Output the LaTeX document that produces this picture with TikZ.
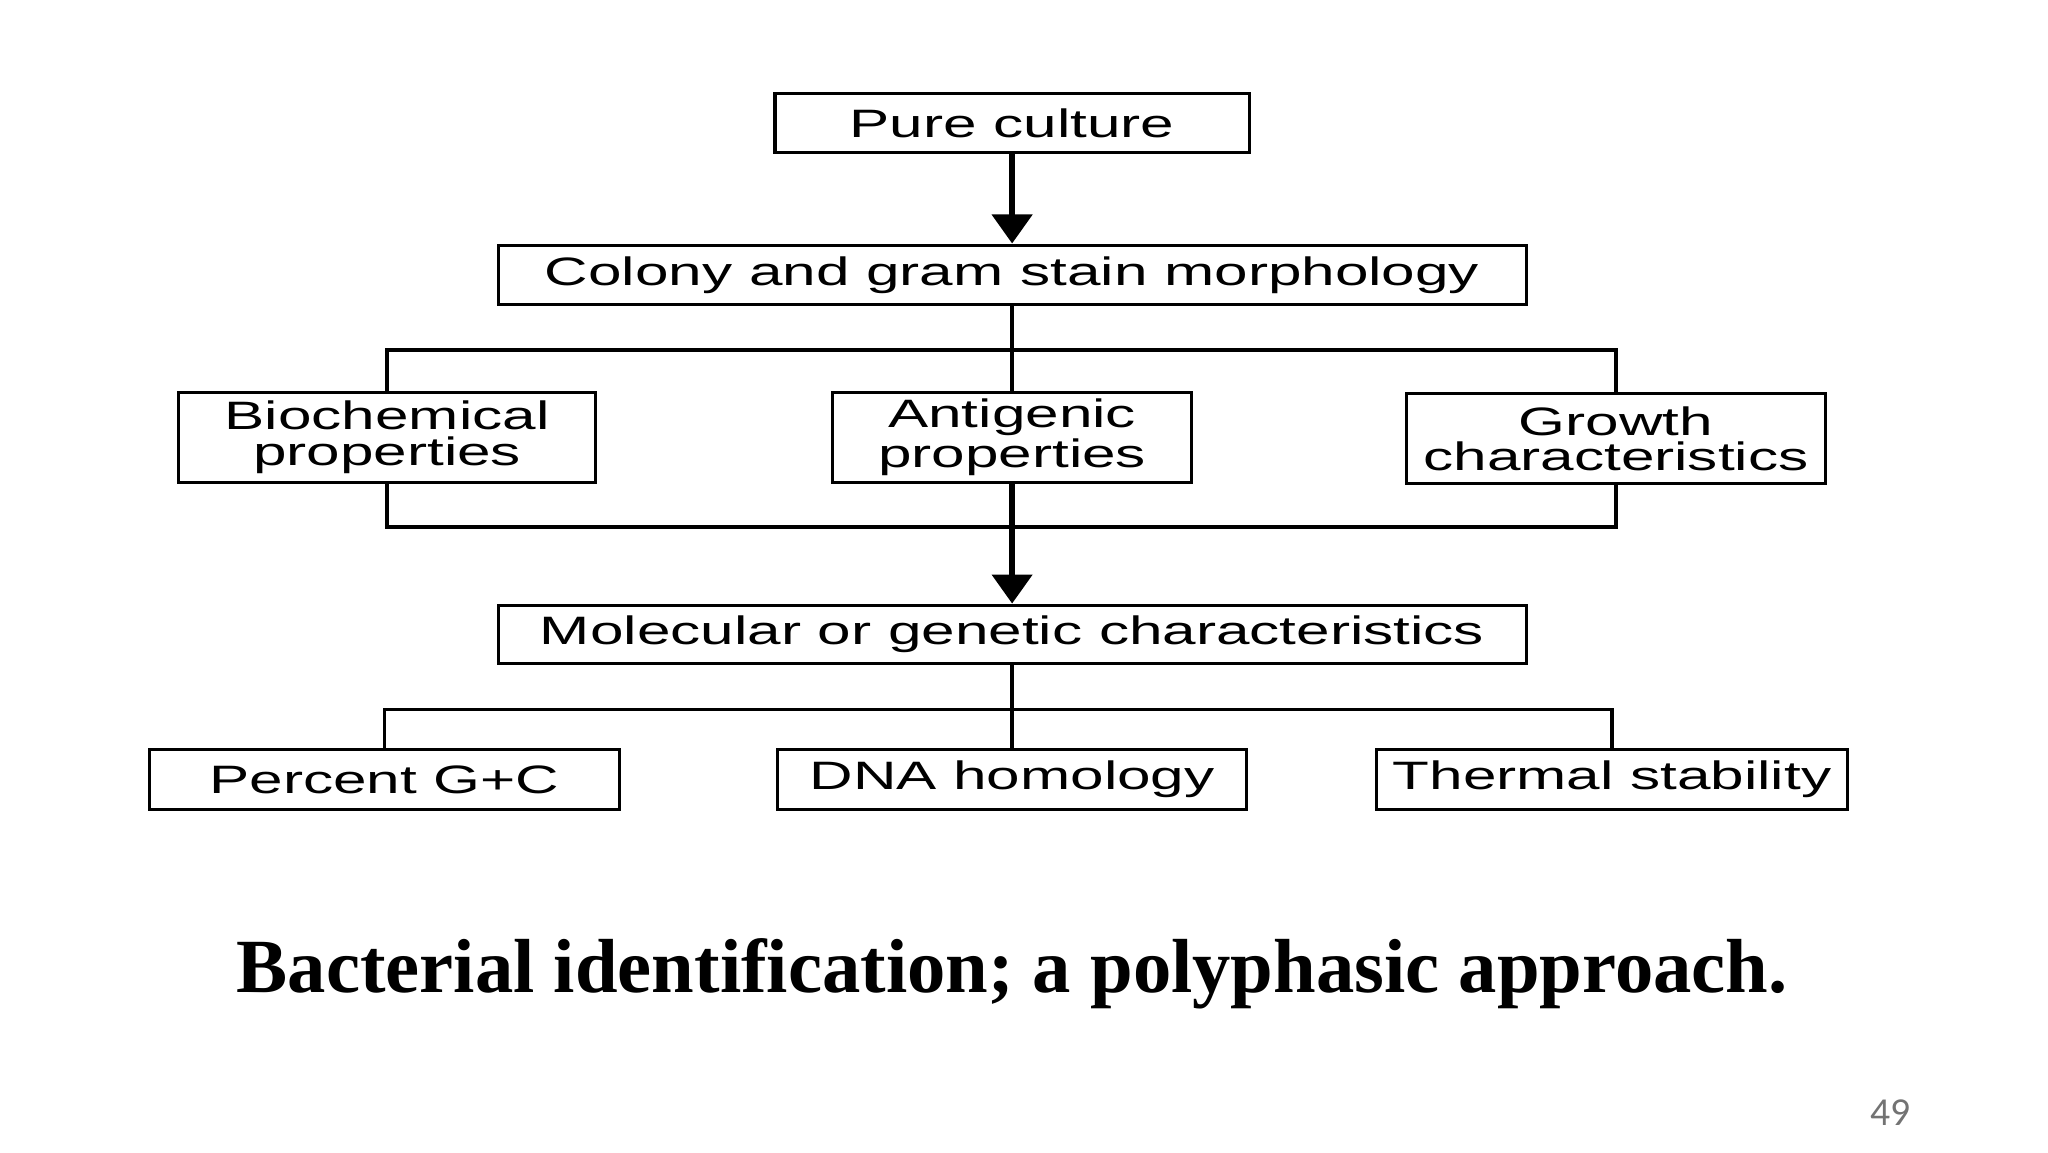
\documentclass[tikz,border=0pt]{standalone}
\usepackage{fontspec}
\setmainfont{Liberation Serif}
\newfontfamily\boxfont[FakeStretch=1.52]{Liberation Sans}
\newfontfamily\numfont{Carlito}
\usetikzlibrary{arrows.meta}
\tikzstyle{stage} = [draw, line width=1.2pt, inner sep=0pt, align=center,
    font=\boxfont\fontsize{15}{13.5}\selectfont]
\tikzstyle{link} = [draw, line width=1.3pt]
\tikzstyle{flow} = [draw, line width=2.2pt, -{Triangle[length=11pt,width=15pt]}]
\begin{document}
\begin{tikzpicture}[x=0.5pt, y=-0.5pt]
    \useasboundingbox (0,0) rectangle (1550,872);
    % Boxes
    \node[stage, minimum width=179.5pt, minimum height=22.5pt] (pure) at (766,93) {Pure culture};
    \node[stage, minimum width=389pt, minimum height=22.5pt] (colony) at (766,208) {Colony and gram stain morphology};
    \node[stage, minimum width=158pt, minimum height=34pt] (bio) at (293,331) {Biochemical\\properties};
    \node[stage, minimum width=136pt, minimum height=34pt] (anti) at (766,331) {Antigenic\\properties};
    \node[stage, minimum width=158.5pt, minimum height=34pt] (growth) at (1223,332) {Growth\\characteristics};
    \node[stage, minimum width=389pt, minimum height=22pt] (mol) at (766,480) {Molecular or genetic characteristics};
    \node[stage, minimum width=178pt, minimum height=22.5pt] (gc) at (291,590) {Percent G+C};
    \node[stage, minimum width=177.5pt, minimum height=22.5pt] (dna) at (766,590) {DNA homology};
    \node[stage, minimum width=178pt, minimum height=22.5pt] (therm) at (1220,590) {Thermal stability};
    % Junction points
    \coordinate (t1) at (766,265);
    \coordinate (b1) at (766,399);
    \coordinate (t2) at (766,537);
    % Connectors
    \path[flow] (pure) -- (colony);
    \path[link] (colony) -- (t1);
    \path[link] (bio.north) |- (t1) -| (growth.north);
    \path[link] (t1) -- (anti.north);
    \path[link] (bio.south) |- (b1) -| (growth.south);
    \path[flow] (anti) -- (mol);
    \path[link] (mol) -- (t2);
    \path[link] (gc.north) |- (t2) -| (therm.north);
    \path[link] (t2) -- (dna.north);
    % Caption
    \node[font=\bfseries\fontsize{29}{29}\selectfont] (title) at (766,737) {Bacterial identification; a polyphasic approach.};
    \node[font=\numfont\fontsize{15}{15}\selectfont, text=black!55] (page) at (1431,842) {49};
\end{tikzpicture}
\end{document}
